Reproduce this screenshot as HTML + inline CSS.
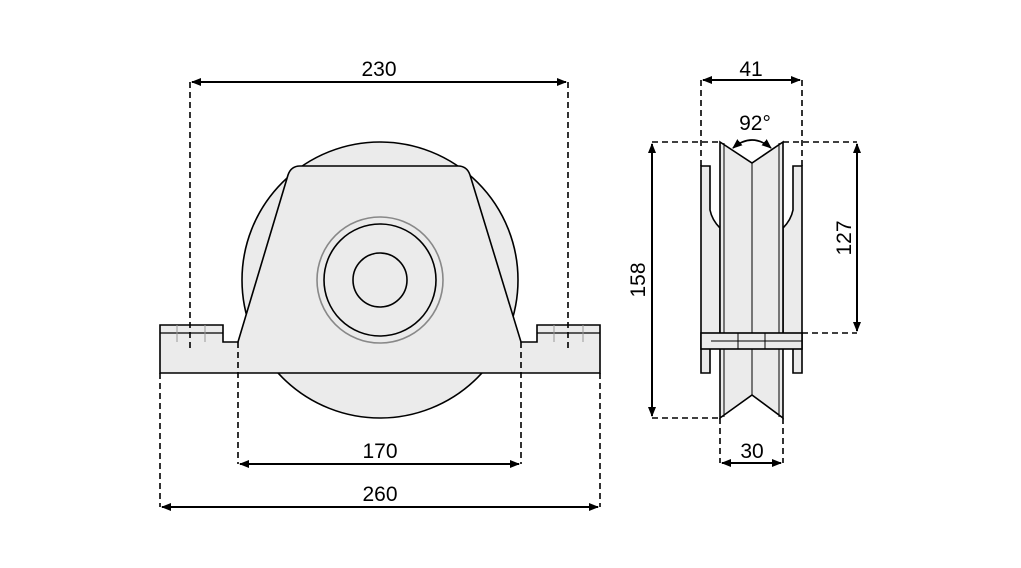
<!DOCTYPE html>
<html><head><meta charset="utf-8"><style>
html,body{margin:0;padding:0;background:#fff;}
svg{display:block;}
text{font-family:"Liberation Sans",sans-serif;font-size:21px;fill:#000;text-anchor:middle;}
</style></head><body>
<svg width="1021" height="568" viewBox="0 0 1021 568" xmlns="http://www.w3.org/2000/svg">
<defs>
<marker id="a" markerWidth="10" markerHeight="8" refX="9" refY="4" orient="auto-start-reverse" markerUnits="userSpaceOnUse"><path d="M0,0 L10,4 L0,8 z" fill="#000"/></marker>
</defs>
<g stroke="#000" stroke-width="1.6" fill="#ebebeb">
<!-- front view -->
<circle cx="380" cy="280" r="138"/>
<path d="M160,325 H223 V342 H238 L288,175 Q291,166 300,166 H458 Q467,166 470,175 L521,342 H537 V325 H600 V373 H160 Z"/>
<circle cx="380" cy="280" r="63" fill="none" stroke="#888"/>
<circle cx="380" cy="280" r="56" fill="none"/>
<circle cx="380" cy="280" r="27" fill="none"/>
<path d="M160,333 H223 M537,333 H600" fill="none" stroke-width="1.2"/>
<path d="M177,325 V342 M205,325 V342 M554,325 V342 M583,325 V342" fill="none" stroke="#999" stroke-width="1"/>
<!-- side view -->
<path d="M701,166 H710 V210 Q712,220 720,228 L720,342 H710 V373 H701 Z"/>
<path d="M802,166 H793 V210 Q791,220 783,228 L783,342 H793 V373 H802 Z"/>
<path d="M720,142 L752,163 L783,142 V418 L752,395 L720,418 Z"/>
<path d="M724,143 V417 M779,143 V417 M752,163 V395" fill="none" stroke-width="1"/>
<rect x="701" y="333" width="101" height="16"/>
<path d="M711,341 H802 M738,333 V349 M765,333 V349" fill="none" stroke-width="1"/>
</g>
<g stroke="#000" stroke-width="1.6" stroke-dasharray="6,4" fill="none">
<path d="M190,82 V350 M568,82 V350"/>
<path d="M160,373 V507 M600,373 V507 M238,342 V464 M521,342 V464"/>
<path d="M701,80 V166 M802,80 V166"/>
<path d="M720,418 V463 M783,418 V463"/>
<path d="M652,142 H720 M652,418 H720"/>
<path d="M783,142 H857 M802,333 H857"/>
</g>
<g stroke="#000" stroke-width="2" fill="none">
<path d="M192,82 H566" marker-start="url(#a)" marker-end="url(#a)"/>
<path d="M240,464 H519" marker-start="url(#a)" marker-end="url(#a)"/>
<path d="M162,507 H598" marker-start="url(#a)" marker-end="url(#a)"/>
<path d="M703,80 H800" marker-start="url(#a)" marker-end="url(#a)"/>
<path d="M722,463 H781" marker-start="url(#a)" marker-end="url(#a)"/>
<path d="M652,144 V416" marker-start="url(#a)" marker-end="url(#a)"/>
<path d="M857,144 V331" marker-start="url(#a)" marker-end="url(#a)"/>
<path d="M733,148 Q752,132 771,148" stroke-width="1.6" marker-start="url(#a)" marker-end="url(#a)"/>
</g>
<text x="379" y="76">230</text>
<text x="380" y="458">170</text>
<text x="380" y="501">260</text>
<text x="751" y="76">41</text>
<text x="755" y="130">92°</text>
<text x="752" y="458">30</text>
<text transform="translate(645,280) rotate(-90)">158</text>
<text transform="translate(851,238) rotate(-90)">127</text>
</svg>
</body></html>
